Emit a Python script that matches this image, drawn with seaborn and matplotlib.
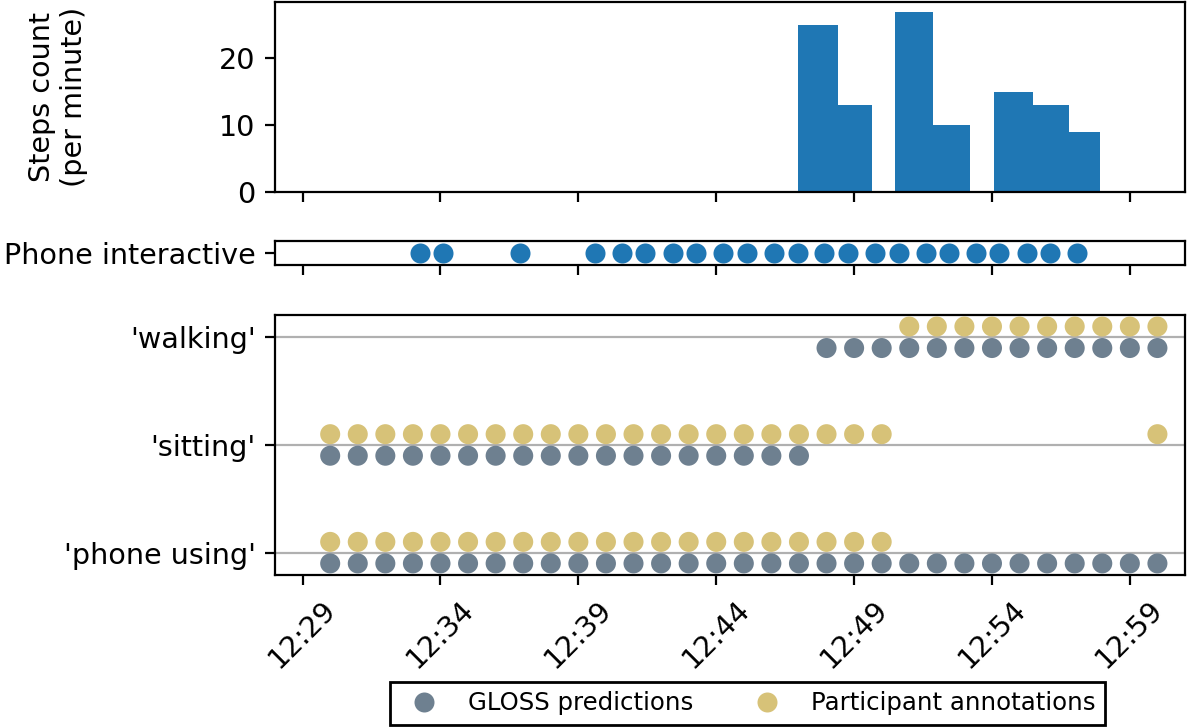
import matplotlib
matplotlib.use("Agg")
import matplotlib.pyplot as plt
import matplotlib.dates as mdates
from matplotlib.lines import Line2D
import pandas as pd
import seaborn as sns

DAY = "2023-01-01 "

# steps per minute, one bar per measured interval
step_start = ["12:46:59", "12:48:26", "12:50:28", "12:51:52", "12:54:04", "12:55:29", "12:56:48"]
step_end = ["12:48:26", "12:49:39", "12:51:52", "12:53:12", "12:55:29", "12:56:48", "12:57:54"]
step_count = [25, 13, 27, 10, 15, 13, 9]

# phone interaction events
phone_times = [
    "12:33:15", "12:34:05", "12:36:54", "12:39:36", "12:40:35", "12:41:25",
    "12:42:25", "12:43:16", "12:44:15", "12:45:06", "12:46:06", "12:46:57",
    "12:47:55", "12:48:46", "12:49:46", "12:50:37", "12:51:36", "12:52:27",
    "12:53:26", "12:54:16", "12:55:16", "12:56:07", "12:57:06",
]

# one row per minute, 12:30 -> 13:00
minutes = [
    "12:30", "12:31", "12:32", "12:33", "12:34", "12:35", "12:36", "12:37",
    "12:38", "12:39", "12:40", "12:41", "12:42", "12:43", "12:44", "12:45",
    "12:46", "12:47", "12:48", "12:49", "12:50", "12:51", "12:52", "12:53",
    "12:54", "12:55", "12:56", "12:57", "12:58", "12:59", "13:00",
]
activities = ["'phone using'", "'sitting'", "'walking'"]

#              12:30 ...                                    ... 13:00
gloss_phone = [1, 1, 1, 1, 1, 1, 1, 1, 1, 1, 1, 1, 1, 1, 1, 1, 1, 1, 1, 1, 1, 1, 1, 1, 1, 1, 1, 1, 1, 1, 1]
gloss_sit = [1, 1, 1, 1, 1, 1, 1, 1, 1, 1, 1, 1, 1, 1, 1, 1, 1, 1, 0, 0, 0, 0, 0, 0, 0, 0, 0, 0, 0, 0, 0]
gloss_walk = [0, 0, 0, 0, 0, 0, 0, 0, 0, 0, 0, 0, 0, 0, 0, 0, 0, 0, 1, 1, 1, 1, 1, 1, 1, 1, 1, 1, 1, 1, 1]
annot_phone = [1, 1, 1, 1, 1, 1, 1, 1, 1, 1, 1, 1, 1, 1, 1, 1, 1, 1, 1, 1, 1, 0, 0, 0, 0, 0, 0, 0, 0, 0, 0]
annot_sit = [1, 1, 1, 1, 1, 1, 1, 1, 1, 1, 1, 1, 1, 1, 1, 1, 1, 1, 1, 1, 1, 0, 0, 0, 0, 0, 0, 0, 0, 0, 1]
annot_walk = [0, 0, 0, 0, 0, 0, 0, 0, 0, 0, 0, 0, 0, 0, 0, 0, 0, 0, 0, 0, 0, 1, 1, 1, 1, 1, 1, 1, 1, 1, 1]

GLOSS = "GLOSS predictions"
ANNOT = "Participant annotations"
colors = {GLOSS: "#6e8090", ANNOT: "#d7c278"}
BLUE = "#1f77b4"

sns.set_style("ticks")
plt.rcParams["font.family"] = ["DejaVu Sans"]
plt.rcParams["font.size"] = 10.3
plt.rcParams["axes.labelsize"] = 10.3
plt.rcParams["xtick.labelsize"] = 10.3
plt.rcParams["ytick.labelsize"] = 10.3
for key in ["axes.edgecolor", "text.color", "axes.labelcolor", "xtick.color", "ytick.color"]:
    plt.rcParams[key] = "black"

# long table for the activity panel
rows = []
series = [
    (GLOSS, -0.1, [gloss_phone, gloss_sit, gloss_walk]),
    (ANNOT, 0.1, [annot_phone, annot_sit, annot_walk]),
]
for source, offset, flags in series:
    for level, row in enumerate(flags):
        for m, on in zip(minutes, row):
            if on:
                rows.append({"time": pd.Timestamp(DAY + m), "y": level + offset, "source": source})
act = pd.DataFrame(rows)

fig = plt.figure(figsize=(6, 3.635), dpi=200)
ax3 = fig.add_axes([0.2292, 0.2087, 0.7583, 0.3585])
ax1 = fig.add_axes([0.2292, 0.7355, 0.7583, 0.2611], sharex=ax3)
ax2 = fig.add_axes([0.2292, 0.6355, 0.7583, 0.033], sharex=ax3)

# steps bars
starts = mdates.date2num(pd.to_datetime([DAY + t for t in step_start]))
ends = mdates.date2num(pd.to_datetime([DAY + t for t in step_end]))
ax1.bar(starts, step_count, width=ends - starts, align="edge", color=BLUE, linewidth=0)
ax1.set_ylabel("Steps count\n(per minute)")
ax1.yaxis.set_label_coords(-0.205, 0.5)
ax1.set_yticks([0, 10, 20])
ax1.tick_params(labelbottom=False)

# phone interactive
phone = pd.DataFrame({"time": pd.to_datetime([DAY + t for t in phone_times]), "y": 0})
sns.scatterplot(data=phone, x="time", y="y", color=BLUE, s=52, linewidth=0, ax=ax2)
ax2.set_ylim(-1, 1)
ax2.set_yticks([0])
ax2.set_yticklabels(["Phone interactive"])
ax2.set_xlabel("")
ax2.set_ylabel("")
ax2.tick_params(labelbottom=False)

# activities
sns.scatterplot(data=act, x="time", y="y", hue="source", palette=colors,
                s=52, linewidth=0, legend=False, ax=ax3, zorder=3)
ax3.set_yticks([0, 1, 2])
ax3.set_yticklabels(activities)
ax3.set_ylim(-0.21, 2.21)
ax3.yaxis.grid(True, color="#b0b0b0", linewidth=0.8)
ax3.set_xlabel("")
ax3.set_ylabel("")

ax3.set_xlim(pd.Timestamp(DAY + "12:28"), pd.Timestamp(DAY + "13:01"))
ax3.xaxis.set_major_locator(mdates.MinuteLocator(byminute=[29, 34, 39, 44, 49, 54, 59]))
ax3.xaxis.set_major_formatter(mdates.DateFormatter("%H:%M"))
plt.setp(ax3.get_xticklabels(), rotation=45)

handles = [
    Line2D([], [], marker="o", linestyle="", markersize=7.2, markeredgewidth=0,
           color=colors[GLOSS], label=GLOSS),
    Line2D([], [], marker="o", linestyle="", markersize=7.2, markeredgewidth=0,
           color=colors[ANNOT], label=ANNOT),
]
fig.legend(handles=handles, loc="center", bbox_to_anchor=(0.623, 0.0326), ncol=2,
           fontsize=8.8, fancybox=False, edgecolor="black", framealpha=1)

fig.savefig("out.png", dpi=200)
